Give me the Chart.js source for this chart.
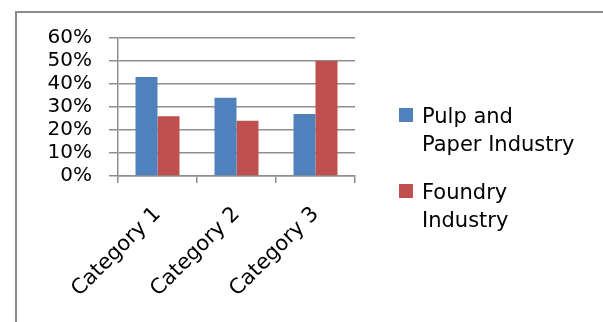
<!DOCTYPE html>
<html>
<head>
<meta charset="utf-8">
<script src="https://cdn.jsdelivr.net/npm/chart.js@4/dist/chart.umd.min.js"></script>
<style>
  html, body { margin: 0; padding: 0; background: #fff; }
  #wrap { position: relative; width: 603px; height: 322px; overflow: hidden; }
  #frame {
    position: absolute; left: 15px; top: 11px; right: -10px; bottom: -10px;
    border-top: 2px solid #8c8c8c; border-left: 2px solid #8c8c8c;
  }
  #chart { position: absolute; left: 0; top: 0; }
</style>
</head>
<body>
<div id="wrap">
  <div id="frame"></div>
  <canvas id="chart" width="603" height="322"></canvas>
</div>
<script>
const categories = ['Category 1', 'Category 2', 'Category 3'];
const pulpValues = [0.43, 0.34, 0.27];
const foundryValues = [0.26, 0.24, 0.50];
const seriesNames = ['Pulp and Paper Industry', 'Foundry Industry'];
const legendLines = [['Pulp and', 'Paper Industry'], ['Foundry', 'Industry']];
const yTicks = [0, 0.1, 0.2, 0.3, 0.4, 0.5, 0.6];

const COLORS = { pulp: '#4F81BD', foundry: '#C0504D', grid: '#8e8e8e', text: '#000000' };
const FONT = 'DejaVu Sans';

// legend drawn by hand so the names can wrap like the original
const sideLegend = {
  id: 'sideLegend',
  afterDraw(chart) {
    const { ctx, chartArea } = chart;
    const x = chartArea.right + 44;
    let y = chartArea.top + 70;
    ctx.save();
    ctx.font = `21px "${FONT}"`;
    ctx.textBaseline = 'alphabetic';
    chart.data.datasets.forEach((ds, i) => {
      ctx.fillStyle = ds.backgroundColor;
      ctx.fillRect(x, y, 14, 14);
      ctx.fillStyle = COLORS.text;
      legendLines[i].forEach((line, j) => {
        ctx.fillText(line, x + 23, y + 15 + j * 28);
      });
      y += 76;
    });
    ctx.restore();
  }
};

new Chart(document.getElementById('chart'), {
  type: 'bar',
  data: {
    labels: categories,
    datasets: [
      { label: seriesNames[0], data: pulpValues, backgroundColor: COLORS.pulp },
      { label: seriesNames[1], data: foundryValues, backgroundColor: COLORS.foundry }
    ]
  },
  options: {
    responsive: false,
    animation: false,
    devicePixelRatio: 1,
    categoryPercentage: 0.557,
    barPercentage: 1,
    layout: { padding: { left: 48, right: 248, top: 38, bottom: 4 } },
    plugins: {
      legend: { display: false },
      tooltip: { enabled: false }
    },
    scales: {
      x: {
        afterFit(scale) { scale.height = 142; },
        grid: { drawOnChartArea: false, drawTicks: true, tickLength: 7, color: COLORS.grid, lineWidth: 1.5 },
        border: { color: COLORS.grid, width: 1.5 },
        ticks: {
          color: COLORS.text,
          font: { family: FONT, size: 21 },
          minRotation: 45,
          maxRotation: 45,
          padding: 19
        }
      },
      y: {
        min: 0,
        max: 0.6,
        afterFit(scale) { scale.width = 70; },
        afterBuildTicks(scale) { scale.ticks = yTicks.map((v) => ({ value: v })); },
        grid: { color: COLORS.grid, lineWidth: 1.5, tickLength: 9 },
        border: { color: COLORS.grid, width: 1.5 },
        ticks: {
          color: COLORS.text,
          font: { family: FONT, size: 20 },
          padding: 17,
          autoSkip: false,
          callback(value) { return Math.round(value * 100) + '%'; }
        }
      }
    }
  },
  plugins: [sideLegend]
});
</script>
</body>
</html>
